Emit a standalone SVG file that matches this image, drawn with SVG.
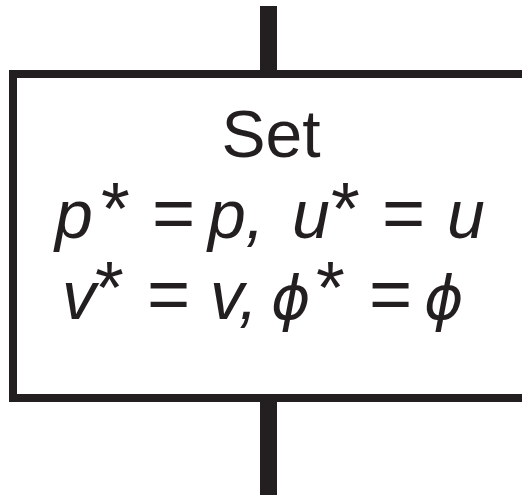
<svg xmlns="http://www.w3.org/2000/svg" width="522" height="495" viewBox="0 0 522 495">
<style>
.ln{fill:#231f20}
.t{font-family:"Liberation Sans",Arial,sans-serif;fill:#231f20}
.m{font-style:italic;font-size:68px}
.ph{font-family:"DejaVu Sans","Liberation Sans",sans-serif;font-style:italic;font-size:60px}
.s{font-size:66px}
.a{font-size:74px}
.eq{font-size:74px}
</style>
<rect width="522" height="495" fill="#ffffff"/>
<g id="connectors">
<rect class="ln" x="260" y="6" width="17" height="66"/>
<rect class="ln" x="260" y="400" width="17" height="95"/>
</g>
<g id="node-set">
<rect x="13" y="74" width="513" height="324" fill="#ffffff" stroke="#231f20" stroke-width="8"/>
<text class="t s" x="271" y="157" text-anchor="middle">Set</text>
<text class="t" y="238"><tspan class="m" x="55">p</tspan><tspan class="eq" x="152">=</tspan><tspan class="m" x="208">p,</tspan><tspan class="m" x="292">u</tspan><tspan class="eq" x="382">=</tspan><tspan class="m" x="447">u</tspan></text>
<text class="t a" y="234"><tspan x="101">*</tspan><tspan x="331">*</tspan></text>
<text class="t" y="319"><tspan class="m" x="62">v</tspan><tspan class="eq" x="147">=</tspan><tspan class="m" x="210">v,</tspan><tspan class="ph" x="271">ϕ</tspan><tspan class="eq" x="369">=</tspan><tspan class="ph" x="424">ϕ</tspan></text>
<text class="t a" y="313"><tspan x="95">*</tspan><tspan x="316">*</tspan></text>
</g>
</svg>
